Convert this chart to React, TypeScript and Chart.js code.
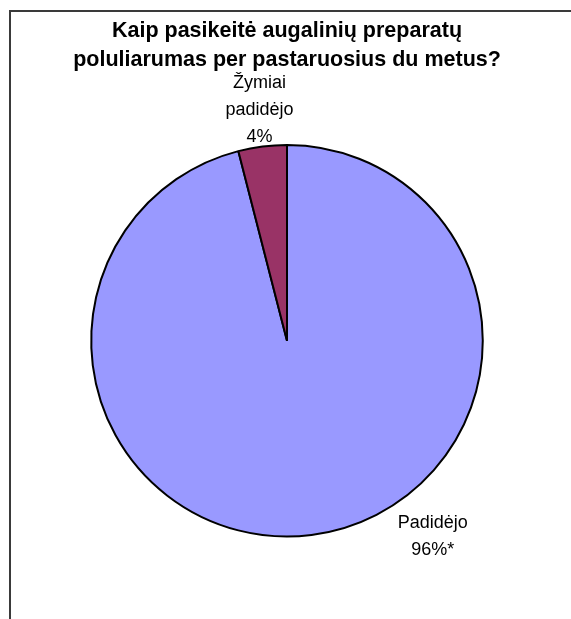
import React, { useEffect, useRef } from "react";
import { Chart, registerables } from "chart.js";

Chart.register(...registerables);

// Survey answers: how popularity of herbal preparations changed over the last two years
const categories = ["Padidėjo", "Žymiai padidėjo"];
const categoryLines = [["Padidėjo"], ["Žymiai", "padidėjo"]];
const shares = [96, 4];
const shareNotes = ["*", ""];
const sliceColors = ["#9999FF", "#993366"];
const titleLines = [
  "Kaip pasikeitė augalinių preparatų",
  "poluliarumas per pastaruosius du metus?",
];

// Where each slice label sits, relative to the pie centre, in units of the radius
const labelAnchors = [
  { dx: 0.745, dy: 1.0 },
  { dx: -0.14, dy: -1.18 },
];

const FONT = "'Liberation Sans', Arial, Helvetica, sans-serif";
const LINE_H = 27;

const framePlugin = {
  id: "frame",
  beforeDraw(chart: any) {
    const { ctx, width, height } = chart;
    ctx.save();
    ctx.fillStyle = "#ffffff";
    ctx.fillRect(0, 0, width, height);
    ctx.strokeStyle = "#3a3a3a";
    ctx.lineWidth = 2;
    ctx.beginPath();
    ctx.moveTo(10, height);
    ctx.lineTo(10, 11);
    ctx.lineTo(width, 11);
    ctx.stroke();
    ctx.restore();
  },
};

const sliceLabelPlugin = {
  id: "sliceLabels",
  afterDatasetsDraw(chart: any) {
    const { ctx } = chart;
    const meta = chart.getDatasetMeta(0);
    ctx.save();
    ctx.fillStyle = "#000000";
    ctx.font = `18px ${FONT}`;
    ctx.textAlign = "center";
    ctx.textBaseline = "middle";
    meta.data.forEach((arc: any, i: number) => {
      const { x, y, outerRadius } = arc.getProps(["x", "y", "outerRadius"], true);
      const lines = [...categoryLines[i], `${shares[i]}%${shareNotes[i]}`];
      const a = labelAnchors[i];
      const cx = x + a.dx * outerRadius;
      const cy = y + a.dy * outerRadius;
      const top = cy - ((lines.length - 1) * LINE_H) / 2;
      lines.forEach((t, k) => ctx.fillText(t, cx, top + k * LINE_H));
    });
    ctx.restore();
  },
};

export default function App() {
  const ref = useRef<HTMLCanvasElement | null>(null);

  useEffect(() => {
    if (!ref.current) return;
    const chart = new Chart(ref.current, {
      type: "pie",
      data: {
        labels: categories,
        datasets: [
          {
            data: shares,
            backgroundColor: sliceColors,
            borderColor: "#000000",
            borderWidth: 2,
          },
        ],
      },
      options: {
        responsive: false,
        animation: false,
        rotation: 0,
        layout: { padding: { top: 16.5, bottom: 81.5, left: 3, right: 0 } },
        plugins: {
          legend: { display: false },
          tooltip: { enabled: false },
          title: {
            display: true,
            text: titleLines,
            color: "#000000",
            font: { family: FONT, size: 21.5, weight: "bold", lineHeight: 1.35 },
            padding: { top: 0, bottom: 69.4 },
          },
        },
      },
      plugins: [framePlugin, sliceLabelPlugin],
    });
    return () => chart.destroy();
  }, []);

  return (
    <div style={{ position: "absolute", left: 0, top: 0, width: 571, height: 619 }}>
      <canvas ref={ref} width={571} height={619} style={{ display: "block" }} />
    </div>
  );
}
